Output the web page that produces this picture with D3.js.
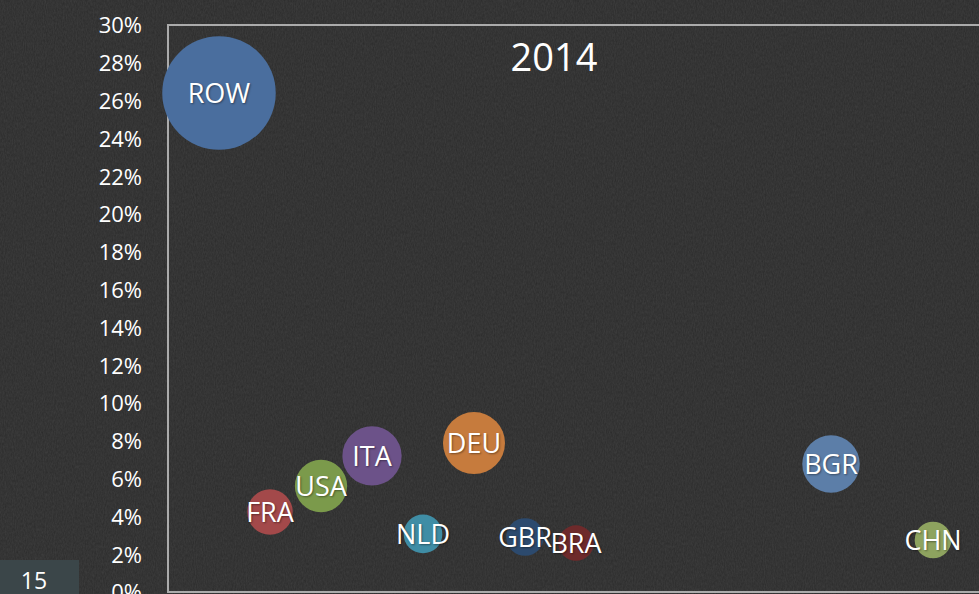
<!DOCTYPE html>
<html>
<head>
<meta charset="utf-8">
<script src="https://cdnjs.cloudflare.com/ajax/libs/d3/7.8.5/d3.min.js"></script>
<style>
body { margin: 0; background: #2b2b2b; overflow: hidden; }
text { font-family: "Open Sans", sans-serif; fill: #fff; }
</style>
</head>
<body>
<div id="chart"></div>
<script>
var width = 979;
var height = 594;

// data
var countries = ["ROW", "FRA", "USA", "ITA", "NLD", "DEU", "GBR", "BRA", "BGR", "CHN"];
var positions = [1, 2, 3, 4, 5, 6, 7, 8, 13, 15];
var shares = [0.264, 0.0423, 0.0561, 0.072, 0.0307, 0.0788, 0.0291, 0.0259, 0.0677, 0.0275];
var colors = ["#4a6e9e", "#a3494a", "#7b9a4b", "#6c5289", "#3f8da5", "#c67b3d", "#2c4a6e", "#6e2a2b", "#5c7ea8", "#8ea35f"];
var yTicks = [0, 0.02, 0.04, 0.06, 0.08, 0.10, 0.12, 0.14, 0.16, 0.18, 0.20, 0.22, 0.24, 0.26, 0.28, 0.30];
var title = "2014";
var slideNumber = "15";

var svg = d3.select("#chart").append("svg")
    .attr("width", width)
    .attr("height", height);

//chalkboard texture
var defs = svg.append("defs");
var noise = defs.append("filter").attr("id", "chalk")
    .attr("x", 0).attr("y", 0).attr("width", "100%").attr("height", "100%");
noise.append("feTurbulence")
    .attr("type", "fractalNoise")
    .attr("baseFrequency", "0.9 0.35")
    .attr("numOctaves", 3)
    .attr("seed", 4);
noise.append("feColorMatrix")
    .attr("type", "matrix")
    .attr("values", "0 0 0 0 1  0 0 0 0 1  0 0 0 0 1  0 0 0 0.09 0");

svg.append("rect")
    .attr("width", width).attr("height", height)
    .attr("fill", "#2b2b2b");
svg.append("rect")
    .attr("width", width).attr("height", height)
    .attr("filter", "url(#chalk)");

var x = d3.scaleLinear().domain([0, 16]).range([168, 984]);
var y = d3.scaleLinear().domain([0, 0.30]).range([592, 25]);
var r = d3.scaleSqrt().domain([0, 0.30]).range([0, 60.5]);

//frame
svg.append("path")
    .attr("d", "M" + x(16) + "," + y(0.30) + "H" + x(0) + "V" + y(0) + "H" + x(16))
    .attr("fill", "none")
    .attr("stroke", "#ababab")
    .attr("stroke-width", 2);

//y axis
var yAxis = svg.append("g")
    .attr("transform", "translate(" + (x(0) - 26) + ",0)")
    .call(d3.axisLeft(y).tickValues(yTicks).tickSize(0).tickPadding(0).tickFormat(d3.format(".0%")));
yAxis.select(".domain").remove();
yAxis.selectAll("text")
    .attr("font-size", 22)
    .attr("font-family", null)
    .attr("fill", null)
    .attr("dy", "0.36em");

svg.append("text")
    .attr("x", 554)
    .attr("y", 71)
    .attr("text-anchor", "middle")
    .attr("font-size", 38)
    .text(title);

var data = countries.map(function(c, i) {
    return { name: c, pos: positions[i], share: shares[i], color: colors[i] };
});

var bubble = svg.selectAll("g.bubble")
    .data(data)
    .enter().append("g")
    .attr("class", "bubble")
    .attr("transform", function(d) { return "translate(" + x(d.pos) + "," + y(d.share) + ")"; });

bubble.append("circle")
    .attr("r", function(d) { return r(d.share); })
    .attr("fill", function(d) { return d.color; });

bubble.append("text")
    .attr("text-anchor", "middle")
    .attr("dy", "0.36em")
    .attr("font-size", 27)
    .style("text-shadow", "1px 1px 2px rgba(0,0,0,0.4)")
    .text(function(d) { return d.name; });

//slide number box
svg.append("rect")
    .attr("x", 0).attr("y", 560)
    .attr("width", 79).attr("height", 34)
    .attr("fill", "#3b4649");
svg.append("text")
    .attr("x", 34)
    .attr("y", 589)
    .attr("text-anchor", "middle")
    .attr("font-size", 23)
    .text(slideNumber);
</script>
</body>
</html>
